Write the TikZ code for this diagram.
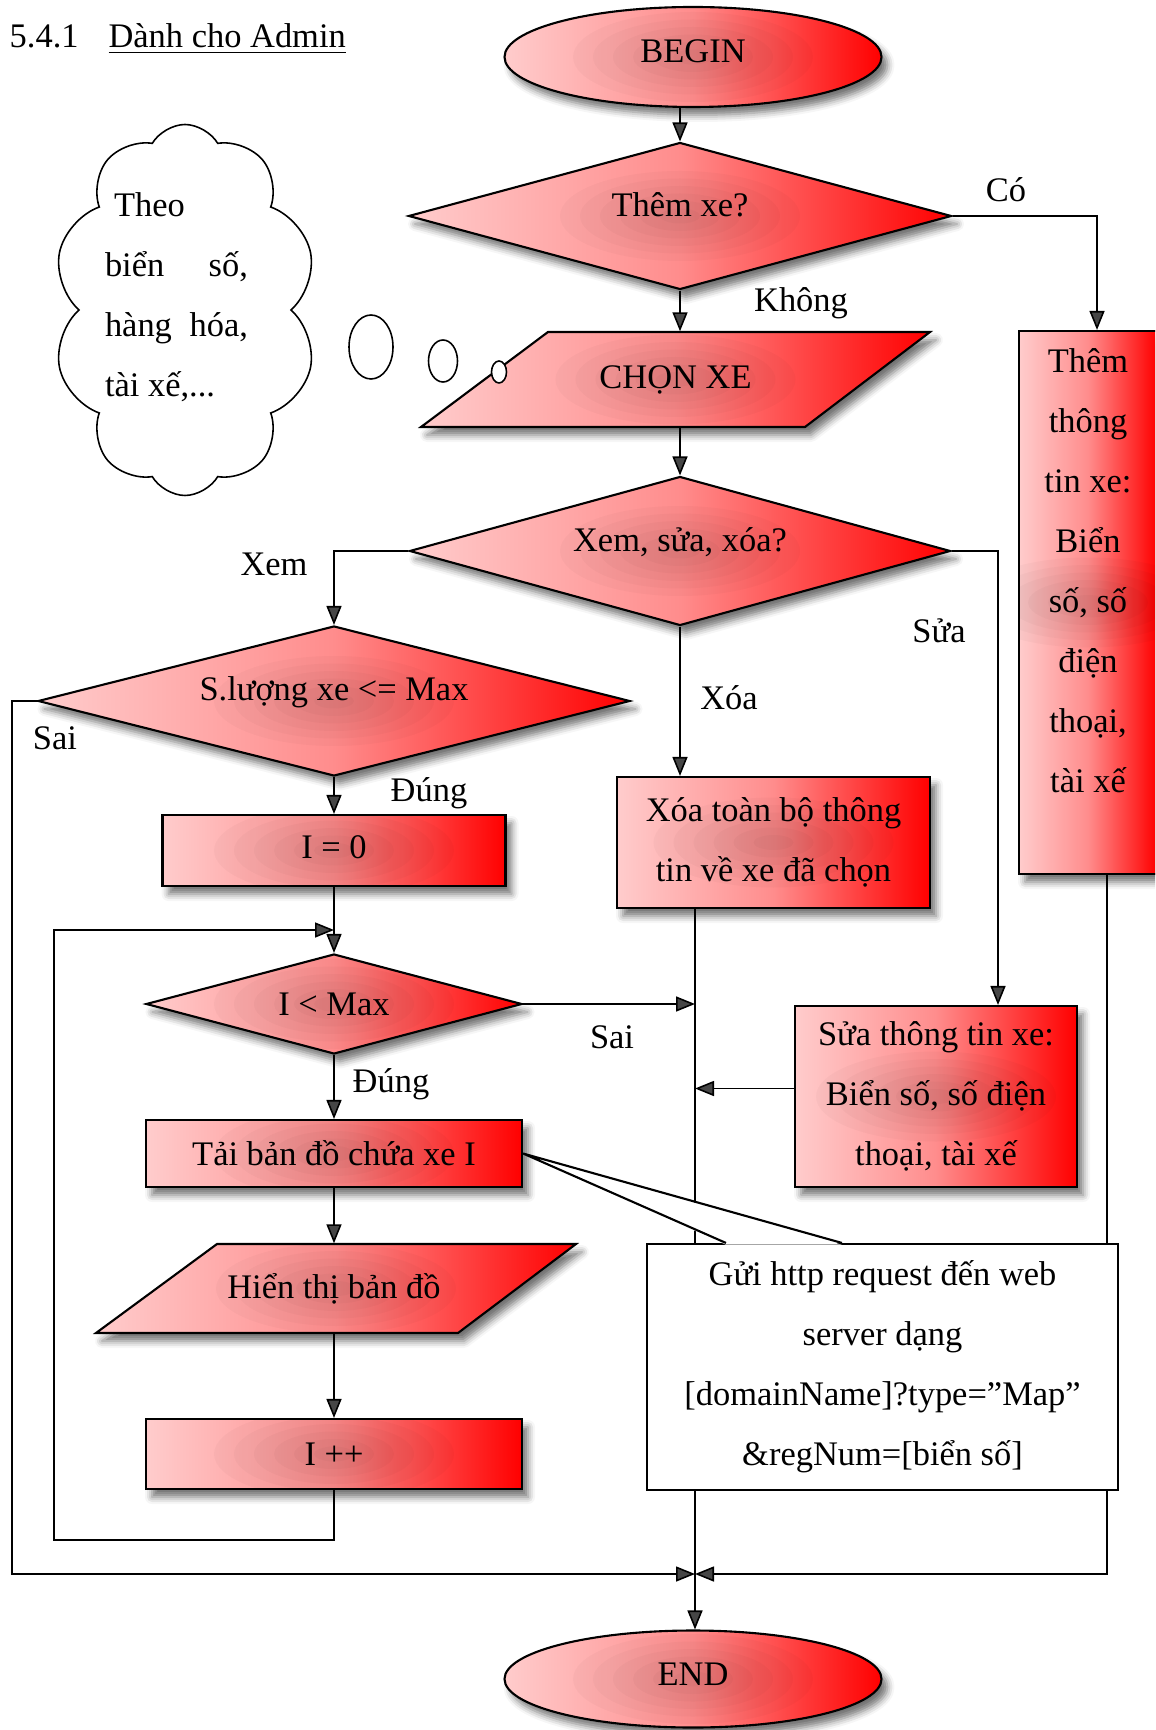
\documentclass[tikz,border=0pt]{standalone}
\usepackage{fontspec}
\setmainfont{Liberation Serif}
\usetikzlibrary{positioning}
\usetikzlibrary{shapes.geometric,shapes.symbols}
\usetikzlibrary{arrows.meta,shadows.blur}

\tikzset{
  every node/.style={font=\fontsize{9.8pt}{17.07pt}\selectfont},
  fillred/.style={draw=black, line width=0.6pt,
    left color=red!20, right color=red, middle color=red!45,
    blur shadow={shadow xshift=0.06cm, shadow yshift=-0.08cm, shadow blur radius=0.07cm, shadow opacity=55},
    path picture={\foreach \k in {1,...,6}{\fill[black, opacity=0.025]
      (path picture bounding box.center) ellipse [x radius={0.2cm*\k}, y radius={0.075cm*\k}];}}},
  terminal/.style={fillred, ellipse, minimum width=3.77cm},
  decision/.style={fillred, diamond, inner sep=0pt},
  process/.style={fillred, rectangle, align=center, inner sep=1pt},
  iotext/.style={inner sep=0pt},
  note/.style={draw=black, fill=white, line width=0.6pt, align=center},
  bubble/.style={draw=black, fill=white, ellipse, line width=0.45pt, inner sep=0pt},
  arr/.style={line width=0.45pt, -{Triangle[width=0.15cm, length=0.19cm]}},
  link/.style={line width=0.45pt},
}

\begin{document}
\begin{tikzpicture}
    \useasboundingbox (0,0) rectangle (11.55,-17.30);
    \clip (0,0) rectangle (11.55,-17.30);

    % Title
    \node[anchor=west, inner sep=0pt] (title) at (0.09,-0.39) {5.4.1\hspace{0.3cm}\underline{Dành cho Admin}};

    % Thought cloud
    \node[cloud, cloud puffs=10, cloud puff arc=120, cloud ignores aspect, draw, line width=0.45pt,
          minimum width=2.64cm, minimum height=3.71cm] (thought) at (1.85,-3.10) {};
    \node[align=left, inner sep=0pt] (thoughttext) at (1.765,-2.97)
        {\makebox[1.43cm][l]{\hspace{0.09cm}Theo}\\ \makebox[1.43cm]{biển\hfill số,}\\
         \makebox[1.43cm]{hàng\hfill hóa,}\\ \makebox[1.43cm][l]{tài xế,...}};

    % Main column
    \node[terminal, minimum height=1.00cm] (begin) at (6.93,-0.57) {\raisebox{0.06cm}[\height][\depth]{BEGIN}};
    \node[decision, minimum width=5.43cm, minimum height=1.47cm, aspect=3.7] (themxe) at (6.80,-2.16)
        {\raisebox{0.11cm}[\height][\depth]{Thêm xe?}};
    \path[fillred] (4.21,-4.27) -- (8.05,-4.27) -- (9.30,-3.32) -- (5.48,-3.32) -- cycle;
    \node[iotext, minimum width=3.82cm, minimum height=0.95cm] (chonxe) at (6.755,-3.795) {CHỌN XE};
    \node[decision, minimum width=5.41cm, minimum height=1.49cm, aspect=3.63] (xem) at (6.80,-5.51)
        {\raisebox{0.09cm}[\height][\depth]{Xem, sửa, xóa?}};

    % Bubbles
    \node[bubble, minimum width=0.44cm, minimum height=0.64cm] (bub1) at (3.71,-3.47) {};
    \node[bubble, minimum width=0.29cm, minimum height=0.42cm] (bub2) at (4.43,-3.61) {};
    \node[bubble, minimum width=0.15cm, minimum height=0.22cm] (bub3) at (4.99,-3.72) {};

    % Add branch
    \node[process, minimum width=1.38cm, minimum height=5.43cm] (them) at (10.88,-6.025) {};
    \node[align=center, inner sep=0pt] (themtext) at (10.88,-5.71)
        {Thêm\\ thông\\ tin xe:\\ Biển\\ số, số\\ điện\\ thoại,\\ tài xế};

    % View branch
    \node[decision, minimum width=5.92cm, minimum height=1.50cm, aspect=3.95] (sl) at (3.34,-7.01)
        {\raisebox{0.09cm}[\height][\depth]{S.lượng xe <= Max}};
    \node[process, minimum width=3.43cm, minimum height=0.71cm] (i0) at (3.34,-8.505) {\raisebox{0.03cm}[\height][\depth]{I = 0}};
    \node[decision, minimum width=3.76cm, minimum height=1.00cm, aspect=3.76] (imax) at (3.34,-10.04) {I < Max};
    \node[process, minimum width=3.76cm, minimum height=0.67cm] (tai) at (3.34,-11.535) {Tải bản đồ chứa xe I};
    \path[fillred] (0.96,-13.33) -- (4.58,-13.33) -- (5.76,-12.44) -- (2.17,-12.44) -- cycle;
    \node[iotext, minimum width=3.60cm, minimum height=0.89cm] (hien) at (3.34,-12.885) {Hiển thị bản đồ};
    \node[process, minimum width=3.76cm, minimum height=0.70cm] (ipp) at (3.34,-14.54) {I ++};

    % Delete and edit branches
    \node[process, minimum width=3.13cm, minimum height=1.31cm] (xoa) at (7.735,-8.425) {Xóa toàn bộ thông\\ tin về xe đã chọn};
    \node[process, minimum width=2.82cm, minimum height=1.81cm] (sua) at (9.36,-10.965) {Sửa thông tin xe:\\ Biển số, số điện\\ thoại, tài xế};

    \node[terminal, minimum height=0.97cm] (end) at (6.93,-16.79) {\raisebox{0.05cm}[\height][\depth]{END}};
    \coordinate (mrg) at (6.95,-15.74);

    % Labels
    \node (lco) at (10.06,-1.90) {Có};
    \node (lkhong) at (8.01,-3.03) {Không};
    \node (lxem) at (2.74,-5.64) {Xem};
    \node (lsua) at (9.39,-6.31) {Sửa};
    \node (lxoa) at (7.29,-6.98) {Xóa};
    \node (lsai) at (0.55,-7.38) {Sai};
    \node (ldung) at (4.29,-7.93) {Đúng};
    \node (ldung2) at (3.91,-10.84) {Đúng};
    \node (lsai2) at (6.12,-10.37) {Sai};

    % Connectors
    \draw[arr] (begin.south -| themxe.north) -- (themxe.north);
    \draw[arr] (themxe.south) -- (themxe.south |- chonxe.north);
    \draw[arr] (themxe.east) -| ([xshift=0.09cm]them.north);
    \draw[arr] (chonxe.south -| xem.north) -- (xem.north);
    \draw[arr] (xem.west) -| (sl.north);
    \draw[arr] (xem.south) -- (xem.south |- xoa.north);
    \draw[arr] (xem.east) -| ([xshift=0.62cm]sua.north);
    \draw[arr] (sl.south) -- (i0.north);
    \draw[arr] (i0.south) -- (imax.north);
    \draw[arr] (imax.south) -- (tai.north);
    \draw[arr] (tai.south) -- (hien.north);
    \draw[arr] (hien.south) -- (ipp.north);
    \draw[arr] (ipp.south) -- ++(0,-0.50) -| (0.54,-9.30) -- (3.34,-9.30);
    \draw[arr] (sl.west) -| (0.12,-15.74) -- (mrg);
    \draw[arr] (imax.east) -- (imax.east -| mrg);
    \draw[arr] ([yshift=0.08cm]sua.west) -- ([yshift=0.08cm]sua.west -| mrg);
    \draw[arr] ([xshift=0.19cm]them.south) |- (mrg);
    \draw[link] (xoa.south -| mrg) -- (mrg);
    \draw[arr] (mrg) -- (mrg |- end.north);

    % Request note
    \node[note, minimum width=4.71cm, minimum height=2.46cm] (gui) at (8.825,-13.67)
        {Gửi http request đến web\\ server dạng\\ {[}domainName]?type=”Map”\\ \&regNum=[biển số]};
    \fill[white] (tai.east) -- ([xshift=0.80cm, yshift=-0.5pt]gui.north west) -- ([xshift=1.96cm, yshift=-0.5pt]gui.north west) -- cycle;
    \draw[link, line width=0.6pt] ([xshift=0.80cm]gui.north west) -- (tai.east) -- ([xshift=1.96cm]gui.north west);
\end{tikzpicture}
\end{document}
